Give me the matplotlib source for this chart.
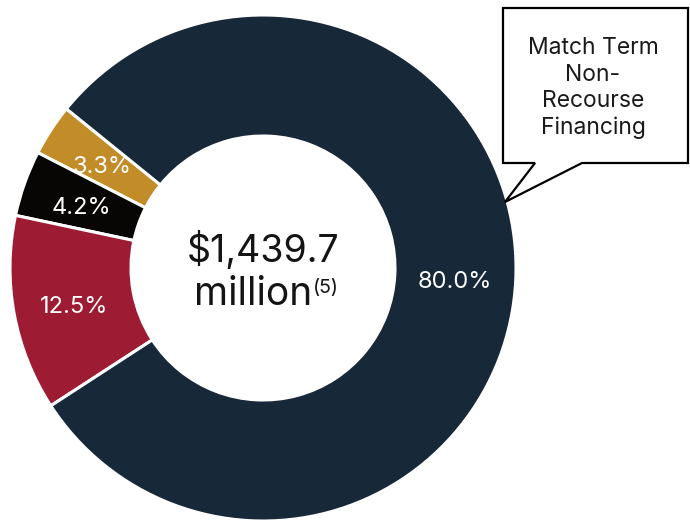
import matplotlib
matplotlib.use("Agg")
import matplotlib.pyplot as plt
from matplotlib.patches import Polygon
import numpy as np

plt.rcParams['font.family'] = ['Inter', 'DejaVu Sans']

# slices, counterclockwise from upper left
labels = ['3.3%', '4.2%', '12.5%', '80.0%']
values = [3.3, 4.2, 12.5, 80.0]
colors = ['#c28c28', '#070605', '#9e1c33', '#172838']

total_text = '$1,439.7'
unit_text = 'million'
note_text = '(5)'
callout_text = 'Match Term\nNon-\nRecourse\nFinancing'

W, H = 690, 520
fig = plt.figure(figsize=(6.9, 5.2), dpi=100)
ax = fig.add_axes([0, 0, 1, 1])

cx, cy = 263, H - 268
R = 253
ring = 121

wedges, texts = ax.pie(values, colors=colors, startangle=141, counterclock=True,
                       center=(cx, cy), radius=R,
                       wedgeprops=dict(width=ring, edgecolor='white', linewidth=2.2))

# percentage labels in the middle of the ring
ang = 141
for v, lab in zip(values, labels):
    mid = np.deg2rad(ang + v * 3.6 / 2)
    r = R - ring / 2
    ax.text(cx + r * np.cos(mid), cy + r * np.sin(mid) - 4, lab, color='white',
            fontsize=17, ha='center', va='center')
    ang += v * 3.6

# centre text
ax.text(cx, H - 262, total_text, fontsize=27, ha='center', va='baseline', color='#141414')
ax.text(312, H - 305, unit_text, fontsize=28, ha='right', va='baseline', color='#141414')
ax.text(313, H - 293, note_text, fontsize=14, ha='left', va='baseline', color='#141414')

# callout box
pts = [(503, 8), (688, 8), (688, 163), (582, 163), (505, 202), (535, 163), (503, 163)]
ax.add_patch(Polygon([(x, H - y) for x, y in pts], closed=True, facecolor='white',
                     edgecolor='black', linewidth=1.6, joinstyle='miter', zorder=5))
ax.text(593, H - 88, callout_text, fontsize=16.5, ha='center', va='center',
        linespacing=1.25, color='#1a1a1a', zorder=6)

ax.set_xlim(0, W)
ax.set_ylim(0, H)
ax.set_aspect('equal')
ax.axis('off')

fig.savefig('out.png', dpi=100)
